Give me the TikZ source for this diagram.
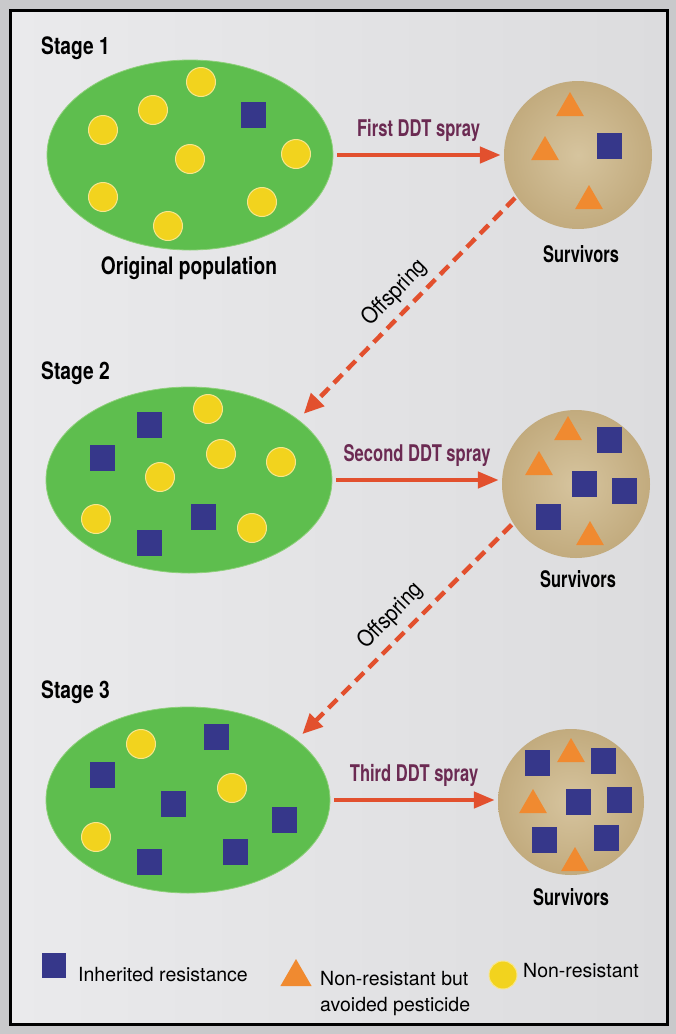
\documentclass[tikz,border=0pt]{standalone}
\usepackage{fontspec}
\setmainfont{TeX Gyre Heros}
\newfontfamily\condA{TeX Gyre Heros}[FakeStretch=0.8]
\newfontfamily\condB{TeX Gyre Heros}[FakeStretch=0.72]
\newfontfamily\condC{TeX Gyre Heros}[FakeStretch=0.9]
\usetikzlibrary{arrows.meta,shapes.geometric}
\definecolor{outerbg}{HTML}{C9C9CB}
\definecolor{bgl}{HTML}{EAEAEC}
\definecolor{bgr}{HTML}{DCDCDE}
\definecolor{popgreen}{HTML}{5EBE4E}
\definecolor{popedge}{HTML}{8ED07A}
\definecolor{tanin}{HTML}{D6C49E}
\definecolor{tanout}{HTML}{C2AB7E}
\definecolor{yel}{HTML}{F2D31E}
\definecolor{yeledge}{HTML}{F8E68C}
\definecolor{blu}{HTML}{36378A}
\definecolor{ora}{HTML}{F08A30}
\definecolor{arr}{HTML}{E2502E}
\definecolor{lbl}{HTML}{6B2A52}
\tikzset{
  pop/.style={ellipse, fill=popgreen, draw=popedge, line width=0.8pt, minimum width=286pt, minimum height=190pt, inner sep=0pt},
  surv/.style={circle, inner color=tanin, outer color=tanout, minimum size=148pt, inner sep=0pt},
  nonres/.style={circle, fill=yel, draw=yeledge, line width=1pt, minimum size=29pt, inner sep=0pt},
  resist/.style={rectangle, fill=blu, minimum width=25pt, minimum height=26pt, inner sep=0pt},
  avoid/.style={regular polygon, regular polygon sides=3, fill=ora, minimum size=32pt, inner sep=0pt, yshift=-4pt},
  stagelab/.style={font=\condA\bfseries\fontsize{24}{26}\selectfont, anchor=west, inner sep=0pt},
  poplab/.style={font=\condA\bfseries\fontsize{24}{26}\selectfont, inner sep=0pt},
  survlab/.style={font=\condB\bfseries\fontsize{22.8}{25}\selectfont, inner sep=0pt},
  spraylab/.style={font=\condB\bfseries\fontsize{23}{25}\selectfont, text=lbl, inner sep=0pt},
  offlab/.style={font=\condC\fontsize{22.5}{24}\selectfont, inner sep=0pt, rotate=46},
  leglab/.style={font=\fontsize{19.5}{26}\selectfont, inner sep=0pt, anchor=west, align=left},
  sprayarrow/.style={draw=arr, line width=4.5pt, -{Triangle[length=21pt,width=16pt]}, shorten <=4pt, shorten >=3pt},
  dasharrow/.style={draw=arr, line width=4.5pt, dash pattern=on 12pt off 7pt, -{Triangle[length=20pt,width=18pt]}, shorten >=8pt, shorten <=2pt}
}
\begin{document}
\begin{tikzpicture}[x=1pt,y=-1pt]
\useasboundingbox (0,0) rectangle (676,1034);
\fill[outerbg] (0,0) rectangle (676,1034);
\path[draw=black, line width=3pt, left color=bgl, right color=bgr] (10,10) rectangle (667,1024);

% ---------- Stage 1 ----------
\node[stagelab] (st1) at (41,48) {Stage 1};
\node[pop] (e1) at (190,155) {};
\foreach \x/\y [count=\i] in {201/82,153/110,103/130,190/159,296/154,103/197,262/202,168/226}
  \node[nonres] (y1-\i) at (\x,\y) {};
\node[resist] (b1-1) at (253,115) {};
\node[poplab] (op) at (189,268) {Original population};
\node[surv] (s1) at (578,155) {};
\foreach \x/\y [count=\i] in {570/104,545/148,589/197}
  \node[avoid] (t1-\i) at (\x,\y) {};
\node[resist] (sb1-1) at (609,146) {};
\node[survlab] (sv1) at (581,254) {Survivors};
\draw[sprayarrow] (e1.east) -- (s1.west) node[midway, above=11pt, spraylab] (sp1) {First DDT spray};

% ---------- Stage 2 ----------
\node[stagelab] (st2) at (41,373) {Stage 2};
\node[pop, minimum height=186pt] (e2) at (189,480) {};
\foreach \x/\y [count=\i] in {208/409,221/454,160/477,281/462,96/519,252/528}
  \node[nonres] (y2-\i) at (\x,\y) {};
\foreach \x/\y [count=\i] in {149/425,102/458,203/517,149/543}
  \node[resist] (b2-\i) at (\x,\y) {};
\node[surv] (s2) at (576,484) {};
\foreach \x/\y [count=\i] in {568/428,539/463,590/533}
  \node[avoid] (t2-\i) at (\x,\y) {};
\foreach \x/\y [count=\i] in {609/440,584/484,624/491,548/517}
  \node[resist] (sb2-\i) at (\x,\y) {};
\node[survlab] (sv2) at (578,579) {Survivors};
\draw[sprayarrow] (e2.east) -- (s2.west |- e2.east) node[midway, above=11pt, spraylab] (sp2) {Second DDT spray};

% ---------- Stage 3 ----------
\node[stagelab] (st3) at (41,692) {Stage 3};
\node[pop, minimum width=284pt, minimum height=186pt] (e3) at (188,800) {};
\foreach \x/\y [count=\i] in {141/744,232/788,96/837}
  \node[nonres] (y3-\i) at (\x,\y) {};
\foreach \x/\y [count=\i] in {216/737,102/775,173/804,284/820,149/862,235/852}
  \node[resist] (b3-\i) at (\x,\y) {};
\node[surv, minimum size=146pt] (s3) at (571,802) {};
\foreach \x/\y [count=\i] in {571/750,533/801,575/859}
  \node[avoid] (t3-\i) at (\x,\y) {};
\foreach \x/\y [count=\i] in {537/763,603/761,578/802,619/800,544/840,606/838}
  \node[resist] (sb3-\i) at (\x,\y) {};
\node[survlab] (sv3) at (571,897) {Survivors};
\draw[sprayarrow] (e3.east) -- (s3.west |- e3.east) node[midway, above=11pt, spraylab] (sp3) {Third DDT spray};

% ---------- Offspring arrows ----------
\draw[dasharrow] (s1.214) -- (e2.29);
\node[offlab] (of1) at (395,293) {Offspring};
\draw[dasharrow] (s2.212) -- (e3.29);
\node[offlab] (of2) at (391,616) {Offspring};

% ---------- Legend ----------
\node[resist, minimum width=24pt, minimum height=25pt] (lg1) at (54,965) {};
\node[leglab] (lt1) at (78,975) {Inherited resistance};
\node[avoid, minimum size=36pt] (lg2) at (296,973) {};
\node[leglab] (lt2) at (320,994) {Non-resistant but\\avoided pesticide};
\node[nonres, minimum size=28pt] (lg3) at (503,975) {};
\node[leglab] (lt3) at (523,971) {Non-resistant};
\end{tikzpicture}
\end{document}
